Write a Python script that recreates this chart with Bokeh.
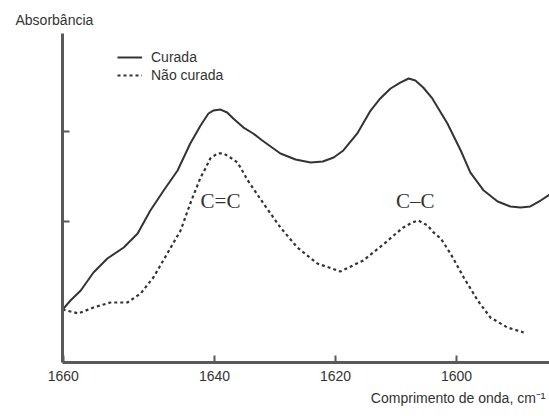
from bokeh.plotting import figure
from bokeh.models import Range1d, FixedTicker, Label, Legend, LegendItem, Title
from bokeh.embed import file_html
from bokeh.resources import INLINE

# ---- data (wavenumber, cm-1 ; absorbance, arbitrary units) ----
cured_wn = [1665.1, 1663.8, 1662.1, 1660.0, 1657.7, 1655.0, 1652.7, 1650.6, 1648.4,
            1646.1, 1644.0, 1642.3, 1641.0, 1640.2, 1639.0, 1637.9, 1636.9, 1635.2,
            1633.6, 1632.1, 1629.1, 1626.6, 1624.1, 1622.1, 1620.3, 1618.7, 1616.4,
            1614.2, 1612.6, 1610.9, 1609.3, 1607.9, 1606.8, 1605.5, 1604.0, 1602.6,
            1601.5, 1599.3, 1597.7, 1595.5, 1593.2, 1591.1, 1589.4, 1587.8, 1586.1,
            1584.6]
cured_abs = [0.022, 0.122, 0.233, 0.433, 0.589, 0.711, 0.867, 1.122, 1.344,
             1.567, 1.867, 2.067, 2.200, 2.233, 2.244, 2.211, 2.144, 2.044,
             1.978, 1.900, 1.756, 1.689, 1.656, 1.667, 1.711, 1.789, 1.978,
             2.233, 2.367, 2.478, 2.544, 2.589, 2.567, 2.489, 2.367, 2.211,
             2.089, 1.789, 1.544, 1.344, 1.222, 1.167, 1.156, 1.167, 1.233,
             1.300]

uncured_wn = [1665.1, 1662.5, 1660.0, 1657.2, 1654.4, 1652.2, 1650.1, 1647.8, 1645.6,
              1644.0, 1642.3, 1641.5, 1640.7, 1639.5, 1638.5, 1637.4, 1636.2, 1635.7,
              1634.5, 1631.9, 1629.1, 1626.3, 1623.0, 1619.2, 1615.4, 1611.7, 1610.4,
              1608.8, 1607.3, 1606.3, 1604.8, 1603.8, 1602.6, 1601.0, 1598.8, 1596.5,
              1594.4, 1591.6, 1588.9]
uncured_abs = [0.022, -0.022, 0.044, 0.100, 0.100, 0.200, 0.378, 0.644, 0.900,
               1.200, 1.489, 1.589, 1.700, 1.756, 1.756, 1.711, 1.656, 1.600,
               1.456, 1.200, 0.933, 0.711, 0.533, 0.444, 0.567, 0.767, 0.844,
               0.933, 0.989, 1.011, 0.956, 0.878, 0.811, 0.644, 0.378, 0.122,
               -0.067, -0.178, -0.233]

series_names = ["Curada", "Não curada"]
x_ticks = [1665, 1640, 1620, 1600]
x_tick_labels = ["1660", "1640", "1620", "1600"]
y_ticks = [1, 2]
band_labels = ["C=C", "C\u2013C"]
band_wn = [1639.0, 1606.8]
band_abs = [1.233, 1.233]
x_title = "Comprimento de onda, cm\u207b\u00b9"
y_title = "Absorbância"

INK = "#333333"
AXIS = "#5a5a5a"
SANS = "Liberation Sans"

p = figure(width=549, height=416,
           x_range=Range1d(1665.12, 1584.63), y_range=Range1d(-0.567, 3.089),
           output_backend="svg", toolbar_location=None,
           min_border_left=62, min_border_right=0, min_border_top=33, min_border_bottom=54)
p.grid.visible = False
p.outline_line_color = None
p.background_fill_color = "white"
p.border_fill_color = "white"

# y-axis title shown horizontally above the axis
p.title.text = y_title
p.title.align = "left"
p.title.offset = -47
p.title.standoff = 11
p.title.text_font = SANS
p.title.text_font_size = "14px"
p.title.text_font_style = "normal"
p.title.text_color = INK

r1 = p.line(cured_wn, cured_abs, line_color=INK, line_width=2, line_join="round")
r2 = p.line(uncured_wn, uncured_abs, line_color=INK, line_width=2.2, line_dash="3 3",
            line_join="round")

legend = Legend(items=[LegendItem(label=series_names[0], renderers=[r1]),
                       LegendItem(label=series_names[1], renderers=[r2])],
                location=(55, 278), background_fill_alpha=0, border_line_alpha=0,
                padding=0, margin=0, spacing=0, glyph_width=25, glyph_height=18,
                label_height=18, label_standoff=9, label_text_font_size="14px",
                label_text_font=SANS, label_text_color=INK)
p.add_layout(legend)

# axes
for ax in (p.xaxis[0], p.yaxis[0]):
    ax.axis_line_color = AXIS
    ax.axis_line_width = 3
    ax.major_tick_line_color = AXIS
    ax.major_tick_line_width = 2
    ax.major_tick_in = 7
    ax.major_tick_out = 0
    ax.minor_tick_line_color = None

p.xaxis.ticker = FixedTicker(ticks=x_ticks)
p.xaxis.major_label_overrides = {t: l for t, l in zip(x_ticks, x_tick_labels)}
p.xaxis.major_label_text_font = SANS
p.xaxis.major_label_text_font_size = "14px"
p.xaxis.major_label_text_color = INK
p.xaxis.major_label_standoff = 8

p.yaxis.ticker = FixedTicker(ticks=y_ticks)
p.yaxis.major_label_text_color = None

# right-aligned x-axis title below the tick labels
p.add_layout(Title(text=x_title, align="right", offset=4, standoff=9,
                   text_font=SANS, text_font_size="14px", text_font_style="normal",
                   text_color=INK), "below")

# band labels
for t, xw, ya in zip(band_labels, band_wn, band_abs):
    p.add_layout(Label(x=xw, y=ya, text=t, text_align="center", text_baseline="middle",
                       text_font="Liberation Serif", text_font_size="21px", text_color=INK))

open("out.html", "w").write(file_html(p, INLINE))
